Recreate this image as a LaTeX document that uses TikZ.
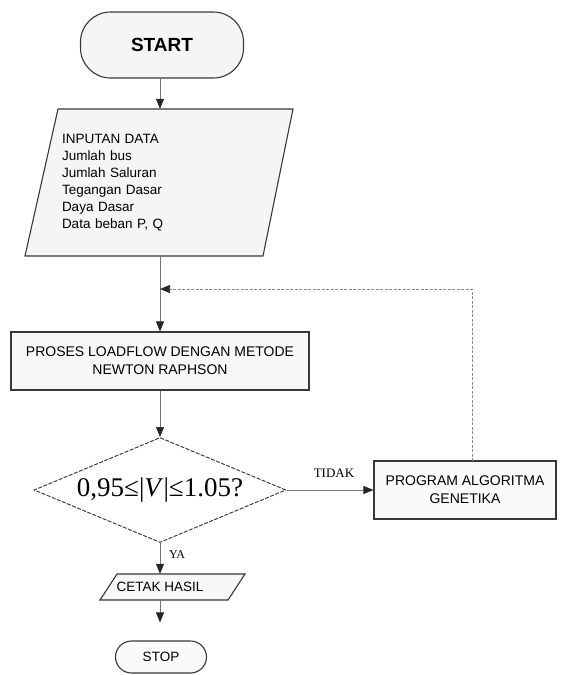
\documentclass[tikz,border=0pt]{standalone}
\usepackage{fontspec}
\setmainfont{Liberation Serif}
\newfontfamily\arialfont{Liberation Sans}
\usetikzlibrary{arrows.meta,shapes.geometric}
\begin{document}
\begin{tikzpicture}[x=1pt,y=-1pt,
  outline/.style={draw=black!78, line width=1.1pt},
  sans/.style={font=\arialfont\fontsize{13.5}{17.5}\selectfont},
  tip/.style={-{Triangle[length=10pt,width=8pt,color=black!85,fill=black!85]}},
  conn/.style={draw=black!55, line width=0.7pt, tip},
  loopline/.style={draw=black!45, line width=0.7pt, dash pattern=on 3pt off 1.5pt, tip},
  lbl/.style={font=\fontsize{13}{15}\selectfont, inner sep=1pt}
]
\useasboundingbox (0,0) rectangle (562,675);

% START
\node[outline, fill=black!4, rounded corners=30pt, minimum width=163pt, minimum height=66pt,
      font=\arialfont\bfseries\fontsize{19}{22}\selectfont] (start) at (162,45) {START};

% INPUT parallelogram
\draw[outline, fill=black!4] (58,109) -- (293,109) -- (263,256) -- (25,256) -- cycle;
\node[inner sep=0, minimum height=147pt, text width=196pt, align=left,
      font=\arialfont\fontsize{13.5}{17}\selectfont] (input) at (160,182.5)
      {INPUTAN DATA\\Jumlah bus\\Jumlah Saluran\\Tegangan Dasar\\Daya Dasar\\Data beban P, Q};

% PROCESS
\node[outline, fill=black!3, minimum width=298pt, minimum height=58pt, align=center,
      font=\arialfont\fontsize{14}{18}\selectfont] (proc) at (160,361)
      {PROSES LOADFLOW DENGAN METODE\\NEWTON RAPHSON};

% DECISION
\node[diamond, draw=black!75, line width=1pt, dash pattern=on 4pt off 1.5pt, aspect=2.4,
      minimum width=252pt, minimum height=105pt, inner sep=0,
      font=\fontsize{27}{30}\selectfont] (dec) at (160,490) {0,95≤|\textit{V}|≤1.05?};

% PROGRAM ALGORITMA GENETIKA
\node[outline, fill=black!2, minimum width=182pt, minimum height=58pt, align=center,
      font=\arialfont\fontsize{14}{18}\selectfont] (prog) at (465,490)
      {PROGRAM ALGORITMA\\GENETIKA};

% CETAK HASIL
\draw[outline, fill=black!3] (117,574) -- (245,574) -- (228,600) -- (100,600) -- cycle;
\node[inner sep=0, minimum width=120pt, minimum height=26pt, sans] (cetak) at (160,587) {CETAK HASIL};

% STOP
\node[outline, fill=black!2, rounded corners=16pt, minimum width=91pt, minimum height=32pt, sans] (stop) at (161,657) {STOP};

% connectors
\draw[conn] (start.south -| input.north) -- (input.north);
\draw[conn] (input.south) -- (proc.north);
\draw[conn] (proc.south) -- (dec.north);
\draw[conn] (dec.east) -- (prog.west);
\node[lbl] (tidak) at (334,473) {TIDAK};
\draw[conn] (dec.south) -- (cetak.north);
\node[lbl, font=\fontsize{12}{14}\selectfont] (ya) at (177,555) {YA};
\draw[conn, shorten >=18pt] (cetak.south) -- (cetak.south |- stop.north);

% loop back
\coordinate (loopstart) at (472,461);
\coordinate (join) at (160,289);
\draw[loopline] (loopstart) |- (join);
\end{tikzpicture}
\end{document}
